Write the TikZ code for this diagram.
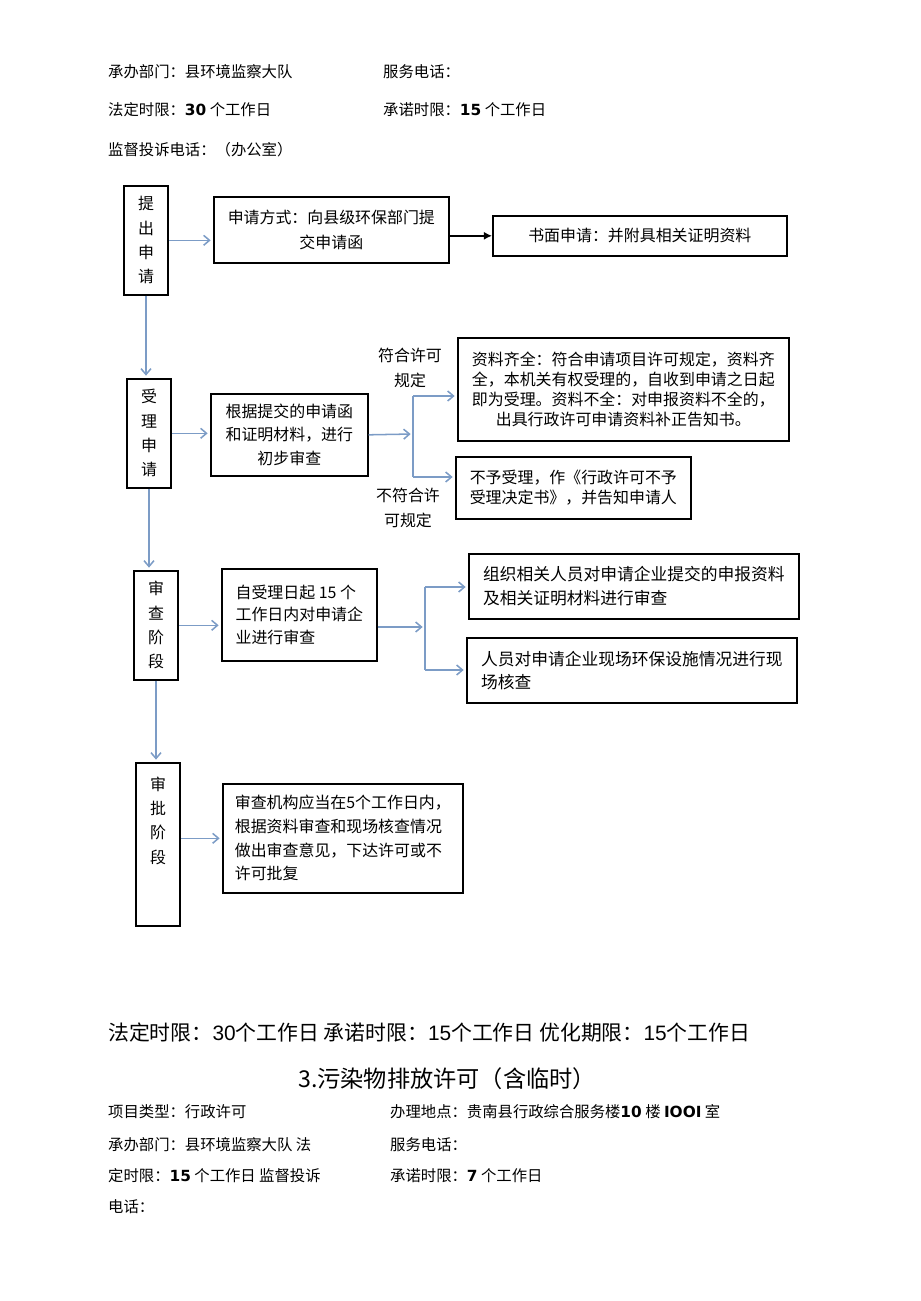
\documentclass[tikz,border=0pt]{standalone}
\usepackage{fontspec}
\setmainfont{Noto Sans CJK SC}
\newfontfamily\numfont{DejaVu Sans}
\newfontfamily\arialfont{Liberation Sans}
\usepackage{tikz}
\usetikzlibrary{arrows,arrows.meta,calc,positioning}
\definecolor{flowblue}{RGB}{124,156,198}
\newcommand{\boldnum}[1]{{\numfont\bfseries #1}}

\begin{document}
\begin{tikzpicture}[x=0.03cm,y=-0.03cm,>={Straight Barb[length=5pt,width=8.5pt]}]
	\tikzstyle{info} = [anchor=west, inner sep=0pt, font=\fontsize{13.1}{15}\selectfont]
	\tikzstyle{stage} = [draw, line width=1.4pt, align=center, inner sep=0pt, anchor=north west, minimum width=1.33cm, font=\fontsize{13.6}{20.8}\selectfont]
	\tikzstyle{block} = [draw, line width=1.4pt, align=center, inner sep=0pt, anchor=north west, font=\fontsize{13.6}{20}\selectfont]
	\tikzstyle{flow} = [draw=flowblue, line width=1.3pt, ->, shorten >=2pt]
	\tikzstyle{fork} = [draw=flowblue, line width=1.3pt]
	\tikzstyle{cond} = [align=center, inner sep=0pt, font=\fontsize{13.6}{21}\selectfont]
	
	\useasboundingbox (0,0) rectangle (920,1301);
	
	\node [info] (dept) at (108,72) {承办部门：县环境监察大队};
	\node [info] (phone) at (383,72) {服务电话：};
	\node [info] (legal) at (108,110) {法定时限：\boldnum{30} 个工作日};
	\node [info] (promise) at (383,110) {承诺时限：\boldnum{15} 个工作日};
	\node [info] (complain) at (108,150) {监督投诉电话：（办公室）};
	
	\node [stage, minimum height=3.27cm] (submit) at (123,185) {提\\出\\申\\请};
	\node [block, minimum width=7.05cm, minimum height=1.98cm, font=\fontsize{13.6}{21.5}\selectfont] (apply) at (213,196) {申请方式：向县级环保部门提\\交申请函};
	\node [block, minimum width=8.82cm, minimum height=1.2cm] (written) at (492,215) {书面申请：并附具相关证明资料};
	
	\node [stage, minimum height=3.27cm] (accept) at (126,378) {受\\理\\申\\请};
	\node [block, minimum width=4.71cm, minimum height=2.46cm] (precheck) at (210,393) {根据提交的申请函\\和证明材料，进行\\初步审查};
	\node [block, minimum width=9.93cm, minimum height=3.09cm, font=\fontsize{13.6}{17}\selectfont] (complete) at (457,337) {资料齐全：符合申请项目许可规定，资料齐\\全，本机关有权受理的，自收到申请之日起\\即为受理。资料不全：对申报资料不全的，\\出具行政许可申请资料补正告知书。};
	\node [block, minimum width=7.05cm, minimum height=1.86cm, font=\fontsize{13.6}{17}\selectfont] (reject) at (455,456) {不予受理，作《行政许可不予\\受理决定书》，并告知申请人};
	\coordinate (fork1) at (413,434);
	\coordinate (fork1a) at (413,396);
	\coordinate (fork1b) at (413,477);
	\node [cond] (yes) at (410,368) {符合许可\\规定};
	\node [cond] (no) at (408,508) {不符合许\\可规定};
	
	\node [stage, minimum height=3.27cm] (review) at (133,570) {审\\查\\阶\\段};
	\node [block, minimum width=4.65cm, minimum height=2.76cm, align=left, font=\fontsize{13.6}{19.2}\selectfont] (reviewplan) at (221,568) {自受理日起 15 个\\工作日内对申请企\\业进行审查};
	\node [block, minimum width=9.9cm, minimum height=1.95cm, align=left, font=\fontsize{14.3}{20.5}\selectfont] (docs) at (468,553) {组织相关人员对申请企业提交的申报资料\\及相关证明材料进行审查};
	\node [block, minimum width=9.9cm, minimum height=1.95cm, align=left, font=\fontsize{14.3}{20}\selectfont] (site) at (466,637) {人员对申请企业现场环保设施情况进行现\\场核查};
	\coordinate (fork2) at (425,627);
	\coordinate (fork2a) at (425,587);
	\coordinate (fork2b) at (425,670);
	
	\node [stage, minimum height=4.89cm] (approve) at (135,762) {审\\批\\阶\\段\\[21pt]\mbox{}};
	\node [block, minimum width=7.2cm, minimum height=3.27cm, align=left, font=\fontsize{13.6}{20.2}\selectfont] (decision) at (222,783) {审查机构应当在5个工作日内，\\根据资料审查和现场核查情况\\做出审查意见，下达许可或不\\许可批复};
	
	\draw [flow] (submit.east) -- (submit.east -| apply.west);
	\draw [-{Latex[length=7pt,width=7pt]}, line width=1.4pt] (written.west -| apply.east) -- (written.west);
	\draw [flow] (submit.south) -- (submit.south |- accept.north);
	\draw [flow] (accept.east) -- (accept.east -| precheck.west);
	\draw [flow] (precheck.east) -- (fork1);
	\draw [fork] (fork1a) -- (fork1b);
	\draw [flow] (fork1a) -- (fork1a -| complete.west);
	\draw [flow] (fork1b) -- (fork1b -| reject.west);
	\draw [flow] (accept.south) -- (accept.south |- review.north);
	\draw [flow] (review.east) -- (review.east -| reviewplan.west);
	\draw [flow] (reviewplan.east |- fork2) -- (fork2);
	\draw [fork] (fork2a) -- (fork2b);
	\draw [flow] (fork2a) -- (fork2a -| docs.west);
	\draw [flow] (fork2b) -- (fork2b -| site.west);
	\draw [flow] (review.south) -- (review.south |- approve.north);
	\draw [flow] (approve.east |- decision.west) -- (decision.west);
	
	\node [anchor=west, inner sep=0pt, font=\fontsize{17.8}{20}\selectfont] (limits) at (108,1033) {法定时限：{\arialfont 30}个工作日 承诺时限：{\arialfont 15}个工作日 优化期限：{\arialfont 15}个工作日};
	\node [inner sep=0pt, font=\fontsize{19.8}{22}\selectfont] (title) at (447,1079) {3.污染物排放许可（含临时）};
	\node [info] (ptype) at (108,1112) {项目类型：行政许可};
	\node [info] (place) at (390,1112) {办理地点：贵南县行政综合服务楼\boldnum{10} 楼 \boldnum{IOOI} 室};
	\node [info] (dept2) at (108,1145) {承办部门：县环境监察大队 法};
	\node [info] (phone2) at (390,1145) {服务电话：};
	\node [info] (legal2) at (108,1176) {定时限：\boldnum{15} 个工作日 监督投诉};
	\node [info] (promise2) at (390,1176) {承诺时限：\boldnum{7} 个工作日};
	\node [info] (complain2) at (108,1207) {电话：};
	
\end{tikzpicture}
\end{document}
